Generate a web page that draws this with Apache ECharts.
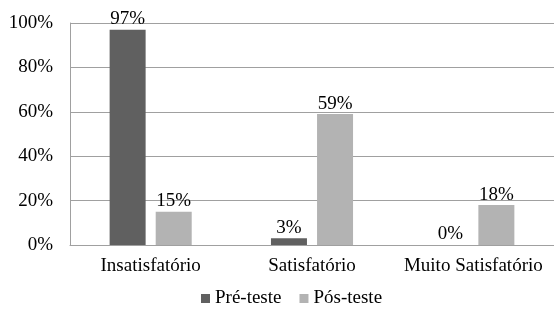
<!DOCTYPE html>
<html>
<head>
<meta charset="utf-8">
<script src="https://cdn.jsdelivr.net/npm/echarts@6/dist/echarts.min.js"></script>
<style>
  html, body { margin: 0; padding: 0; background: #fff; }
  #chart { width: 554px; height: 314px; }
</style>
</head>
<body>
<div id="chart"></div>
<script>
// dados do grafico
const categories = ['Insatisfatório', 'Satisfatório', 'Muito Satisfatório'];
const seriesNames = ['Pré-teste', 'Pós-teste'];
const preTeste = [97, 3, 0];
const posTeste = [15, 59, 18];

const font = '"Liberation Serif", "Times New Roman", serif';
const chart = echarts.init(document.getElementById('chart'));

const labelStyle = {
    show: true,
    position: 'top',
    distance: 1,
    formatter: '{c}%',
    color: '#000',
    fontFamily: font,
    fontSize: 19
};

chart.setOption({
    animation: false,
    grid: { left: 70, right: -3, top: 23, bottom: 69 },
    legend: {
        data: seriesNames,
        bottom: 1,
        left: 196,
        itemWidth: 9,
        itemHeight: 9,
        itemGap: 18,
        icon: 'rect',
        textStyle: { fontFamily: font, fontSize: 19, color: '#000' }
    },
    xAxis: {
        type: 'category',
        data: categories,
        axisLine: { lineStyle: { color: '#a0a0a0', width: 1 } },
        axisTick: { show: false },
        axisLabel: { interval: 0, hideOverlap: false, fontFamily: font, fontSize: 19, color: '#000', margin: 12 }
    },
    yAxis: {
        type: 'value',
        min: 0,
        max: 100,
        interval: 20,
        axisLine: { show: true, lineStyle: { color: '#a0a0a0', width: 1 } },
        axisTick: { show: false },
        splitLine: { lineStyle: { color: '#a0a0a0', width: 1 } },
        axisLabel: { formatter: '{value}%', fontFamily: font, fontSize: 19, color: '#000', margin: 17 }
    },
    series: [
        {
            name: seriesNames[0],
            type: 'bar',
            data: preTeste,
            barWidth: 36,
            barGap: '28%',
            itemStyle: { color: '#606060' },
            label: labelStyle
        },
        {
            name: seriesNames[1],
            type: 'bar',
            data: posTeste,
            barWidth: 36,
            barGap: '28%',
            itemStyle: { color: '#b3b3b3' },
            label: labelStyle
        }
    ]
});
</script>
</body>
</html>
